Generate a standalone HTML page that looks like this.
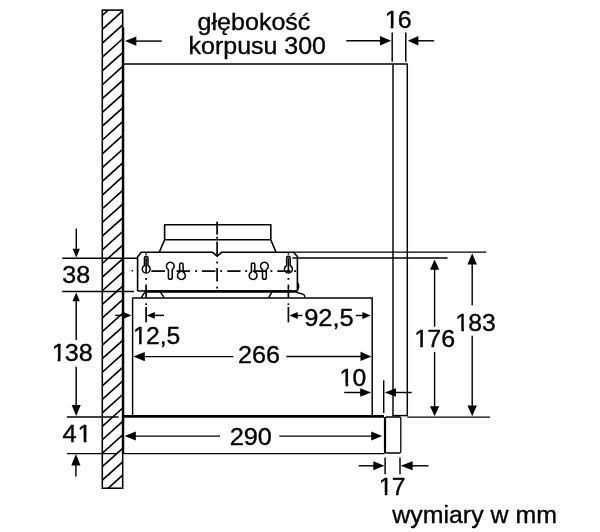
<!DOCTYPE html>
<html lang="pl"><head><meta charset="utf-8"><title>wymiary w mm</title>
<style>
html,body{margin:0;padding:0;background:#fff;}
svg{display:block}
text{font-family:"Liberation Sans",Arial,Helvetica,sans-serif;font-size:24px;fill:#000;stroke:#000;stroke-width:0.35px;stroke-linejoin:round;white-space:pre}
svg{filter:grayscale(1)}
</style></head><body>
<svg width="600" height="532" viewBox="0 0 600 532">
<rect width="600" height="532" fill="#fff"/>
<g stroke="#000" fill="none" stroke-linecap="butt" stroke-linejoin="miter">
<clipPath id="wc"><rect x="102.3" y="10.1" width="20.400000000000006" height="478.09999999999997"/></clipPath>
<g clip-path="url(#wc)">
<line x1="102.3" y1="15.38" x2="122.7" y2="-2.92" stroke-width="1.65" />
<line x1="102.3" y1="29.28" x2="122.7" y2="10.98" stroke-width="1.65" />
<line x1="102.3" y1="43.17" x2="122.7" y2="24.87" stroke-width="1.65" />
<line x1="102.3" y1="57.05" x2="122.7" y2="38.75" stroke-width="1.65" />
<line x1="102.3" y1="70.91" x2="122.7" y2="52.61" stroke-width="1.65" />
<line x1="102.3" y1="84.76" x2="122.7" y2="66.46" stroke-width="1.65" />
<line x1="102.3" y1="98.59" x2="122.7" y2="80.29" stroke-width="1.65" />
<line x1="102.3" y1="112.41" x2="122.7" y2="94.11" stroke-width="1.65" />
<line x1="102.3" y1="126.21" x2="122.7" y2="107.91" stroke-width="1.65" />
<line x1="102.3" y1="140.0" x2="122.7" y2="121.7" stroke-width="1.65" />
<line x1="102.3" y1="153.78" x2="122.7" y2="135.48" stroke-width="1.65" />
<line x1="102.3" y1="167.54" x2="122.7" y2="149.24" stroke-width="1.65" />
<line x1="102.3" y1="181.28" x2="122.7" y2="162.98" stroke-width="1.65" />
<line x1="102.3" y1="195.02" x2="122.7" y2="176.72" stroke-width="1.65" />
<line x1="102.3" y1="208.74" x2="122.7" y2="190.44" stroke-width="1.65" />
<line x1="102.3" y1="222.44" x2="122.7" y2="204.14" stroke-width="1.65" />
<line x1="102.3" y1="236.13" x2="122.7" y2="217.83" stroke-width="1.65" />
<line x1="102.3" y1="249.8" x2="122.7" y2="231.5" stroke-width="1.65" />
<line x1="102.3" y1="263.47" x2="122.7" y2="245.17" stroke-width="1.65" />
<line x1="102.3" y1="277.11" x2="122.7" y2="258.81" stroke-width="1.65" />
<line x1="102.3" y1="290.75" x2="122.7" y2="272.45" stroke-width="1.65" />
<line x1="102.3" y1="304.36" x2="122.7" y2="286.06" stroke-width="1.65" />
<line x1="102.3" y1="317.97" x2="122.7" y2="299.67" stroke-width="1.65" />
<line x1="102.3" y1="331.56" x2="122.7" y2="313.26" stroke-width="1.65" />
<line x1="102.3" y1="345.13" x2="122.7" y2="326.83" stroke-width="1.65" />
<line x1="102.3" y1="358.69" x2="122.7" y2="340.39" stroke-width="1.65" />
<line x1="102.3" y1="372.24" x2="122.7" y2="353.94" stroke-width="1.65" />
<line x1="102.3" y1="385.77" x2="122.7" y2="367.47" stroke-width="1.65" />
<line x1="102.3" y1="399.29" x2="122.7" y2="380.99" stroke-width="1.65" />
<line x1="102.3" y1="412.8" x2="122.7" y2="394.5" stroke-width="1.65" />
<line x1="102.3" y1="426.29" x2="122.7" y2="407.99" stroke-width="1.65" />
<line x1="102.3" y1="439.76" x2="122.7" y2="421.46" stroke-width="1.65" />
<line x1="102.3" y1="453.22" x2="122.7" y2="434.92" stroke-width="1.65" />
<line x1="102.3" y1="466.67" x2="122.7" y2="448.37" stroke-width="1.65" />
<line x1="102.3" y1="480.1" x2="122.7" y2="461.8" stroke-width="1.65" />
<line x1="102.3" y1="493.52" x2="122.7" y2="475.22" stroke-width="1.65" />
</g>
<rect x="102.3" y="10.1" width="20.400000000000006" height="478.09999999999997" fill="none" stroke-width="1.55"/>
<line x1="123.05" y1="27.6" x2="123.05" y2="454" stroke-width="2.4" />
<line x1="123.5" y1="64" x2="407.8" y2="64" stroke-width="1.45" />
<line x1="393" y1="64" x2="393" y2="416" stroke-width="1.45" />
<line x1="407.3" y1="64" x2="407.3" y2="416" stroke-width="1.45" />
<line x1="392.4" y1="415.6" x2="407.9" y2="415.6" stroke-width="1.45" />
<line x1="392.2" y1="32.5" x2="392.2" y2="61.7" stroke-width="1.45" />
<line x1="405.8" y1="32.5" x2="405.8" y2="61.7" stroke-width="1.45" />
<line x1="136" y1="41.1" x2="161.8" y2="41.1" stroke-width="1.45" />
<polygon points="125.0,41.1 136.30,36.40 136.30,45.80" fill="#000" stroke="none"/>
<line x1="346.3" y1="40.8" x2="380" y2="40.8" stroke-width="1.45" />
<polygon points="391.2,40.8 380.00,45.55 380.00,36.05" fill="#000" stroke="none"/>
<line x1="418" y1="40.8" x2="434.2" y2="40.8" stroke-width="1.45" />
<polygon points="407.8,40.8 418.40,36.05 418.40,45.55" fill="#000" stroke="none"/>
<path d="M164.6,239.8 V224.7 H270.8 V239.8 M164.6,239.8 H270.8 M164.6,239.8 L159.3,252.3 M270.8,239.8 L276,252.3" stroke-width="1.6" fill="none" />
<path d="M137.6,291 V256.8 L141.3,252.3 H212.6 L217.1,256.3 L221.6,252.3 H293.5 L297.4,256.5 V290.6" stroke-width="1.6" fill="none" />
<line x1="137.6" y1="291" x2="297.4" y2="291" stroke-width="1.5" />
<line x1="144.5" y1="291.5" x2="297.2" y2="291.5" stroke-width="2.7" />
<path d="M297.4,282.4 Q300.2,286 297.6,290.4" stroke-width="1.2" fill="none" />
<path d="M144.8,292.3 L141.3,297.6 M160.6,292.3 L164.2,297.6" stroke-width="1.5" fill="none" />
<path d="M271.7,292.3 L268.7,297.6 M296.5,292.3 L303.3,294.4 Q304.8,295 304.8,297.6" stroke-width="1.5" fill="none" />
<path d="M132.6,415.5 V298 H372.2 V415.5" stroke-width="1.45" fill="none" />
<line x1="123.8" y1="416.4" x2="384" y2="416.4" stroke-width="2.6" />
<line x1="383.7" y1="380.3" x2="383.7" y2="413" stroke-width="1.45" />
<line x1="123.8" y1="453.6" x2="384.5" y2="453.6" stroke-width="1.45" />
<rect x="385.2" y="417" width="15.6" height="36" rx="1.5" ry="1.5" fill="none" stroke-width="1.3"/>
<line x1="385" y1="417" x2="385" y2="453.3" stroke-width="2.2" />
<path d="M144.45,265.50 V258.05 A1.75,1.75 0 0 1 147.95,258.05 V265.50 A4.0,4.0 0 1 1 144.45,265.50 Z" stroke-width="1.5" fill="none" />
<path d="M286.65,265.50 V258.05 A1.75,1.75 0 0 1 290.15,258.05 V265.50 A4.0,4.0 0 1 1 286.65,265.50 Z" stroke-width="1.5" fill="none" />
<path d="M168.4,269.61 V277.40000000000003 A1.9,1.9 0 0 0 172.20000000000002,277.40000000000003 V269.61 A3.9,3.9 0 1 0 168.4,269.61 Z" stroke-width="1.5" fill="none" />
<path d="M262.5,269.61 V277.40000000000003 A1.9,1.9 0 0 0 266.29999999999995,277.40000000000003 V269.61 A3.9,3.9 0 1 0 262.5,269.61 Z" stroke-width="1.5" fill="none" />
<path d="M179.70000000000002,271.99 V264.59999999999997 A1.7,1.7 0 0 1 183.1,264.59999999999997 V271.99 A3.9,3.9 0 1 1 179.70000000000002,271.99 Z" stroke-width="1.5" fill="none" />
<path d="M251.4,271.99 V264.59999999999997 A1.7,1.7 0 0 1 254.79999999999998,264.59999999999997 V271.99 A3.9,3.9 0 1 1 251.4,271.99 Z" stroke-width="1.5" fill="none" />
<rect x="131.60000000000002" y="270.1" width="1.4" height="1.4" fill="#000" stroke="none"/>
<line x1="151.3" y1="271.1" x2="165" y2="271.1" stroke-width="1.7" />
<line x1="176.5" y1="271.1" x2="190" y2="271.1" stroke-width="1.7" />
<line x1="201.9" y1="271.1" x2="215.4" y2="271.1" stroke-width="1.7" />
<line x1="227.3" y1="271.1" x2="240.6" y2="271.1" stroke-width="1.7" />
<line x1="252.7" y1="271.1" x2="266.2" y2="271.1" stroke-width="1.7" />
<line x1="277.3" y1="271.1" x2="290.5" y2="271.1" stroke-width="1.7" />
<rect x="195.2" y="270.20000000000005" width="1.8" height="1.8" fill="#000" stroke="none"/>
<rect x="220.29999999999998" y="270.20000000000005" width="1.8" height="1.8" fill="#000" stroke="none"/>
<rect x="245.29999999999998" y="270.20000000000005" width="1.8" height="1.8" fill="#000" stroke="none"/>
<rect x="270.5" y="270.20000000000005" width="1.8" height="1.8" fill="#000" stroke="none"/>
<rect x="294.3" y="270.20000000000005" width="1.8" height="1.8" fill="#000" stroke="none"/>
<line x1="217.1" y1="221.7" x2="217.1" y2="234.5" stroke-width="1.7" />
<rect x="216.2" y="236.9" width="1.8" height="1.8" fill="#000" stroke="none"/>
<line x1="217.1" y1="241.5" x2="217.1" y2="256" stroke-width="1.7" />
<rect x="216.2" y="261.6" width="1.8" height="1.8" fill="#000" stroke="none"/>
<line x1="217.1" y1="268" x2="217.1" y2="281.6" stroke-width="1.7" />
<rect x="216.2" y="286.70000000000005" width="1.8" height="1.8" fill="#000" stroke="none"/>
<rect x="145.35" y="253.25" width="1.5" height="1.5" fill="#000" stroke="none"/>
<line x1="146.1" y1="257.5" x2="146.1" y2="272.5" stroke-width="1.6" />
<rect x="145.2" y="278.0" width="1.8" height="1.8" fill="#000" stroke="none"/>
<line x1="146.1" y1="284.6" x2="146.1" y2="297.6" stroke-width="1.7" />
<rect x="145.25" y="303.34999999999997" width="1.7" height="1.7" fill="#000" stroke="none"/>
<line x1="146.1" y1="306.9" x2="146.1" y2="322.3" stroke-width="1.7" />
<rect x="287.65" y="253.25" width="1.5" height="1.5" fill="#000" stroke="none"/>
<line x1="288.4" y1="257.5" x2="288.4" y2="272.5" stroke-width="1.6" />
<rect x="287.5" y="278.0" width="1.8" height="1.8" fill="#000" stroke="none"/>
<line x1="288.4" y1="284.6" x2="288.4" y2="297.6" stroke-width="1.7" />
<rect x="287.54999999999995" y="303.34999999999997" width="1.7" height="1.7" fill="#000" stroke="none"/>
<line x1="288.4" y1="306.9" x2="288.4" y2="322.3" stroke-width="1.7" />
<line x1="62.3" y1="258.2" x2="137.6" y2="258.2" stroke-width="1.45" />
<line x1="62.3" y1="291.5" x2="134" y2="291.5" stroke-width="1.45" />
<line x1="76.3" y1="228.5" x2="76.3" y2="250" stroke-width="1.45" />
<polygon points="76.3,257.6 72.65,248.80 79.95,248.80" fill="#000" stroke="none"/>
<line x1="76.2" y1="300" x2="76.2" y2="340" stroke-width="1.45" />
<polygon points="76.2,292.4 79.85,301.20 72.55,301.20" fill="#000" stroke="none"/>
<line x1="76.2" y1="366.7" x2="76.2" y2="406" stroke-width="1.45" />
<polygon points="76.2,416.1 71.65,405.10 80.75,405.10" fill="#000" stroke="none"/>
<line x1="66.9" y1="416.9" x2="118.6" y2="416.9" stroke-width="1.45" />
<line x1="66.9" y1="453.6" x2="117" y2="453.6" stroke-width="1.45" />
<line x1="75.9" y1="464" x2="75.9" y2="476.6" stroke-width="1.45" />
<polygon points="75.9,454.1 80.50,465.40 71.30,465.40" fill="#000" stroke="none"/>
<line x1="115.3" y1="315.4" x2="124" y2="315.4" stroke-width="1.45" />
<polygon points="131.5,315.4 123.30,318.80 123.30,312.00" fill="#000" stroke="none"/>
<line x1="154" y1="315.4" x2="164" y2="315.4" stroke-width="1.45" />
<polygon points="146.8,315.4 154.80,312.00 154.80,318.80" fill="#000" stroke="none"/>
<line x1="297" y1="315.5" x2="302.5" y2="315.5" stroke-width="1.45" />
<polygon points="289.5,315.5 297.70,312.00 297.70,319.00" fill="#000" stroke="none"/>
<line x1="355.8" y1="315.5" x2="363" y2="315.5" stroke-width="1.45" />
<polygon points="370.8,315.5 362.40,319.00 362.40,312.00" fill="#000" stroke="none"/>
<line x1="144" y1="356.6" x2="233.3" y2="356.6" stroke-width="1.45" />
<polygon points="133.4,356.6 144.80,352.00 144.80,361.20" fill="#000" stroke="none"/>
<line x1="286.4" y1="356.4" x2="361" y2="356.4" stroke-width="1.45" />
<polygon points="371.5,356.4 360.50,361.00 360.50,351.80" fill="#000" stroke="none"/>
<line x1="135" y1="436.1" x2="220" y2="436.1" stroke-width="1.45" />
<polygon points="124.6,436.1 135.80,431.60 135.80,440.60" fill="#000" stroke="none"/>
<line x1="279.3" y1="436.1" x2="372" y2="436.1" stroke-width="1.45" />
<polygon points="382.2,436.1 371.20,440.60 371.20,431.60" fill="#000" stroke="none"/>
<line x1="344.2" y1="392.5" x2="361" y2="392.5" stroke-width="1.45" />
<polygon points="371.2,392.5 360.20,396.70 360.20,388.30" fill="#000" stroke="none"/>
<line x1="395" y1="392.5" x2="411.7" y2="392.5" stroke-width="1.45" />
<polygon points="384.6,392.5 396.00,388.30 396.00,396.70" fill="#000" stroke="none"/>
<line x1="293.2" y1="252.1" x2="486.3" y2="252.1" stroke-width="1.45" />
<line x1="292.4" y1="258" x2="447.5" y2="258" stroke-width="1.45" />
<line x1="407.3" y1="417.1" x2="490" y2="417.1" stroke-width="1.45" />
<line x1="434.6" y1="269" x2="434.6" y2="326.7" stroke-width="1.45" />
<line x1="434.6" y1="352" x2="434.6" y2="407" stroke-width="1.45" />
<polygon points="434.6,259.4 439.20,269.70 430.00,269.70" fill="#000" stroke="none"/>
<polygon points="434.6,416.2 430.00,406.20 439.20,406.20" fill="#000" stroke="none"/>
<line x1="472.2" y1="264" x2="472.2" y2="305.3" stroke-width="1.45" />
<line x1="472.2" y1="335.8" x2="472.2" y2="406" stroke-width="1.45" />
<polygon points="472.2,253.3 476.95,264.60 467.45,264.60" fill="#000" stroke="none"/>
<polygon points="472.2,416.2 467.45,405.40 476.95,405.40" fill="#000" stroke="none"/>
<line x1="385.1" y1="457.5" x2="385.1" y2="474.2" stroke-width="1.45" />
<line x1="400" y1="457.5" x2="400" y2="474.2" stroke-width="1.45" />
<line x1="358.7" y1="465.8" x2="374" y2="465.8" stroke-width="1.45" />
<polygon points="384.5,465.8 373.30,470.30 373.30,461.30" fill="#000" stroke="none"/>
<line x1="412" y1="465.8" x2="428.5" y2="465.8" stroke-width="1.45" />
<polygon points="400.6,465.8 412.60,461.30 412.60,470.30" fill="#000" stroke="none"/>
</g>
<defs>
<clipPath id="c2"><path clip-rule="evenodd" d="M-6,-30 H36.7 V10 H-6 Z M1.80,-2.4 H6.60 V2.5 H1.80 Z M9.12,-2.4 H13.70 V2.5 H9.12 Z"/></clipPath>
<clipPath id="c4"><path clip-rule="evenodd" d="M-6,-30 H50.0 V10 H-6 Z M1.80,-2.4 H6.60 V2.5 H1.80 Z M9.12,-2.4 H13.70 V2.5 H9.12 Z"/></clipPath>
<clipPath id="c5"><path clip-rule="evenodd" d="M-6,-30 H36.7 V10 H-6 Z M15.15,-2.4 H19.95 V2.5 H15.15 Z M22.47,-2.4 H27.05 V2.5 H22.47 Z"/></clipPath>
<clipPath id="c6"><path clip-rule="evenodd" d="M-6,-30 H56.7 V10 H-6 Z M1.80,-2.4 H6.60 V2.5 H1.80 Z M9.12,-2.4 H13.70 V2.5 H9.12 Z"/></clipPath>
<clipPath id="c10"><path clip-rule="evenodd" d="M-6,-30 H36.7 V10 H-6 Z M1.80,-2.4 H6.60 V2.5 H1.80 Z M9.12,-2.4 H13.70 V2.5 H9.12 Z"/></clipPath>
<clipPath id="c11"><path clip-rule="evenodd" d="M-6,-30 H50.0 V10 H-6 Z M1.80,-2.4 H6.60 V2.5 H1.80 Z M9.12,-2.4 H13.70 V2.5 H9.12 Z"/></clipPath>
<clipPath id="c12"><path clip-rule="evenodd" d="M-6,-30 H50.0 V10 H-6 Z M1.80,-2.4 H6.60 V2.5 H1.80 Z M9.12,-2.4 H13.70 V2.5 H9.12 Z"/></clipPath>
<clipPath id="c13"><path clip-rule="evenodd" d="M-6,-30 H36.7 V10 H-6 Z M1.80,-2.4 H6.60 V2.5 H1.80 Z M9.12,-2.4 H13.70 V2.5 H9.12 Z"/></clipPath>
</defs>
<g>
<text transform="translate(197.61,29.5) scale(1.0444,1)">głębokość</text>
<text transform="translate(188.56,54.4) scale(1.0409,1)">korpusu 300</text>
<text clip-path="url(#c2)" dx="0.8 -0.8" transform="translate(383.83,27.8) scale(1.0428,1)">16</text>
<text transform="translate(62.23,283.0) scale(1.0465,1)">38</text>
<text clip-path="url(#c4)" dx="0.8 -0.8" transform="translate(50.81,361.0) scale(1.0497,1)">138</text>
<text clip-path="url(#c5)" dx="0 0.8" transform="translate(62.62,441.6) scale(1.0600,1)">41</text>
<text clip-path="url(#c6)" dx="0.8 -0.8" transform="translate(132.24,344.2) scale(1.0300,1)">12,5</text>
<text transform="translate(238.03,362.7) scale(1.0517,1)">266</text>
<text transform="translate(229.63,444.6) scale(1.0535,1)">290</text>
<text transform="translate(304.16,325.6) scale(1.0600,1)">92,5</text>
<text clip-path="url(#c10)" dx="0.8 -0.8" transform="translate(338.79,385.5) scale(1.0300,1)">10</text>
<text clip-path="url(#c11)" dx="0.8 -0.8" transform="translate(413.33,347.2) scale(1.0415,1)">176</text>
<text clip-path="url(#c12)" dx="0.8 -0.8" transform="translate(454.56,331.0) scale(1.0305,1)">183</text>
<text clip-path="url(#c13)" dx="0.8 -0.8" transform="translate(378.02,494.6) scale(1.0300,1)">17</text>
<text transform="translate(392.25,522.9) scale(1.0387,1)">wymiary w mm</text>
</g>
</svg>
</body></html>
